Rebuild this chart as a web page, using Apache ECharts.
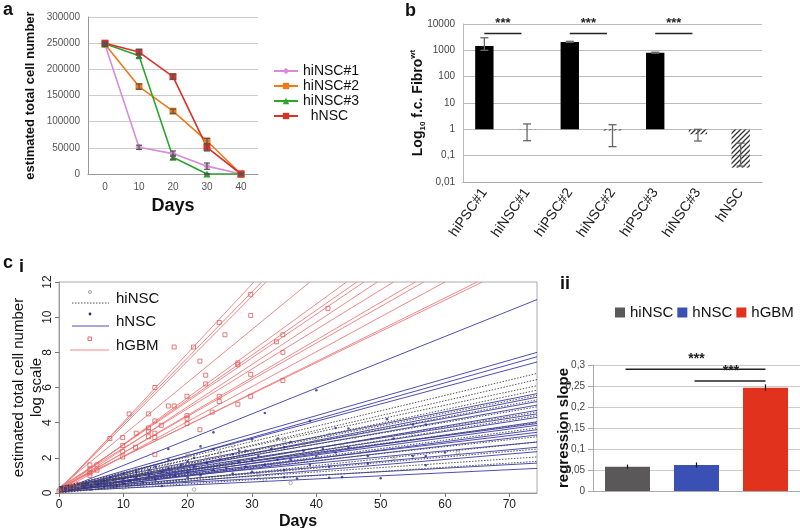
<!DOCTYPE html>
<html>
<head>
<meta charset="utf-8">
<script src="https://cdn.jsdelivr.net/npm/echarts@6.0.0/dist/echarts.min.js"></script>
<style>
html, body { margin: 0; padding: 0; background: #fff; }
#main { width: 800px; height: 528px; }
</style>
</head>
<body>
<div id="main"></div>
<script>
// ---------- panel a : cell number over days ----------
var daysA = ['0', '10', '20', '30', '40'];
var hiNSC1 = [247000, 51000, 39000, 15000, 0];
var hiNSC2 = [248000, 167000, 120000, 63000, 0];
var hiNSC3 = [249000, 226000, 32000, 0, 0];
var hNSCa = [250000, 233000, 186000, 51000, 0];
var errA = {
  'hiNSC#1': [3000, 4000, 5000, 6000, 1000],
  'hiNSC#2': [3000, 5000, 4000, 5000, 1000],
  'hiNSC#3': [2000, 4000, 4000, 1000, 1000],
  'hNSC': [2000, 5000, 5000, 7000, 1000]
};

// ---------- panel b : fold change (log) ----------
var catsB = ['hiPSC#1', 'hiNSC#1', 'hiPSC#2', 'hiNSC#2', 'hiPSC#3', 'hiNSC#3', 'hNSC'];
var foldB = [1460, 0.98, 2080, 0.9, 815, 0.65, 0.035];
var errLowB = [1000, 0.37, 2000, 0.22, 780, 0.36, 0.04];
var errHighB = [3000, 1.6, 2200, 1.5, 850, 1.0, 0.3];
var sigB = [[0, 1, 4400], [2, 3, 4400], [4, 5, 4400]];

// ---------- panel c i : regression lines ----------
var cDayMax = 74.3;
var gbmStart = [0.1, 0.2, 0.15, 0.3, 0.1, 0.2, 0.25, 0.1, 0.3, 0.15, 0.2, 0.1, 0.25, 0.3];
var gbmHitDay = [30.3, 31.5, 32.2, 39, 44.7, 46.3, 47.4, 49.5, 52, 55.4, 56.7, 60, 65, 65.8]; // day where line reaches 12
var hnscStart = [0.1, 0.2, 0.05, 0.15, 0.3, 0.1, 0.25, 0.2, 0.05, 0.3, 0.15, 0.1, 0.35, 0.2, 0.05, 0.25, 0.1, 0.3, 0.15, 0.05, 0.2, 0.1];
var hnscEnd = [11.0, 8.0, 7.75, 7.45, 5.65, 5.45, 5.2, 5.0, 4.7, 4.5, 4.3, 4.05, 3.95, 3.85, 3.6, 3.45, 3.3, 2.9, 2.6, 2.35, 1.7, 1.4];
var hinscStart = [0.3, 0.2, 0.35, 0.1, 0.25, 0.15, 0.3, 0.2, 0.05, 0.35, 0.1, 0.25, 0.0, 0.15, 0.2, 0.05];
var hinscEnd = [6.8, 6.45, 6.1, 5.85, 5.55, 5.3, 4.9, 4.6, 4.4, 4.0, 3.7, 3.2, 2.9, 2.5, 2.05, 1.8];

var gbmPts = [[0,0.1],[1,0.25],[2,0.35],[3,0.5],[4.8,1.6],[4.8,1.35],[4.8,1.15],[4.8,1.0],[5.9,1.6],[5.9,1.3],
  [7.9,3.1],[9.9,3.15],[9.9,2.7],[9.9,2.35],[9.9,2.05],[10.9,4.5],[12,3.4],[11.9,2.6],
  [13.9,4.5],[13.9,3.7],[13.9,3.5],[13.9,3.2],[14.9,6.0],[14.9,4.1],[14.9,3.4],[14.9,3.15],[14.9,2.2],
  [15.9,3.85],[17,4.95],[17.9,8.3],[17.9,4.95],[19.9,5.5],[19.9,4.4],[19.9,4.25],[19.9,3.95],
  [20.9,8.3],[21.9,7.5],[21.9,3.6],[22.8,6.7],[22.8,6.2],[23.8,4.6],[24.9,9.7],[24.9,5.5],[24.9,5.2],
  [25.8,9.0],[27.8,7.4],[27.8,7.3],[27.8,5.05],[29.8,11.3],[29.8,10.1],[29.8,6.75],[29.8,5.5],
  [33.8,8.6],[34.8,9.0],[34.8,8.0],[34.8,6.4],[41.8,10.5]];
var hnscPts = [[1,0.1],[2,0.2],[3,0.25],[4,0.3],[5,0.4],[5,0.2],[6,0.5],[7,0.7],[7,0.35],[8,0.9],[8,0.5],[9,0.4],
  [10,0.8],[10,1.1],[10,0.55],[11,0.7],[12,1.2],[12,0.9],[13,0.6],[14,1.3],[14,1.0],[15,0.75],[15,1.5],[16,0.4],
  [16,1.2],[17,2.5],[17,1.9],[17,1.4],[18,1.0],[19,1.6],[20,1.8],[20,1.2],[20,0.9],[21,1.5],[21,2.0],[22,2.65],
  [22,1.0],[23,1.7],[24,3.45],[24,1.3],[24,2.5],[25,1.9],[26,1.4],[27,2.2],[27,1.1],[28,1.8],[28,2.4],[29,2.4],
  [29,1.5],[30,3.05],[30,1.9],[30,1.2],[31,2.1],[32,4.55],[32,1.6],[33,2.5],[34,3.1],[34,1.9],[35,2.6],[35,0.9],
  [35,1.3],[36,2.9],[36,1.9],[37,0.82],[38,2.4],[39,4.1],[39,1.6],[40,5.84],[40,2.1],[41,2.5],[42,0.87],[42,1.5],
  [43,3.7],[43,2.3],[44,0.91],[45,3.67],[45,2.6],[48,1.67],[48,2.1],[50,0.84],[51,4.2],[52,3.1],[55,3.9],[55,2.1],
  [57,3.9],[57,1.58],[57,2.1],[60,2.3]];
var hinscPts = [[0,0.2],[3,0.3],[5,0.5],[8,0.6],[10,0.3],[10,1.0],[12,1.3],[13,0.9],[15,1.2],[17,1.6],[18,1.4],
  [20,2.2],[20,2.1],[21,0.2],[22,1.7],[23,2.0],[25,2.3],[26,1.6],[27,2.7],[28,2.1],[30,2.4],[31,1.0],[32,0.76],
  [33,2.6],[35,3.0],[36,0.57],[37,2.3],[38,2.8],[40,3.0],[42,3.3],[44,2.7],[46,3.2],[48,3.5],[52,2.0],[55,3.3],[62,2.3]];

// ---------- panel c ii : regression slope ----------
var groupsC = ['hiNSC', 'hNSC', 'hGBM'];
var slopeC = [0.058, 0.062, 0.246];
var slopeErrC = [0.005, 0.006, 0.008];
var sigC = [[0, 2, 0.29], [1, 2, 0.262]];

var font = 'Liberation Sans, Arial, sans-serif';
var chart = echarts.init(document.getElementById('main'));

function hatchPattern() {
  var c = document.createElement('canvas');
  c.width = 5; c.height = 5;
  var g = c.getContext('2d');
  g.strokeStyle = '#333'; g.lineWidth = 1.3;
  g.beginPath();
  g.moveTo(0, 5); g.lineTo(5, 0);
  g.moveTo(-1, 1); g.lineTo(1, -1);
  g.moveTo(4, 6); g.lineTo(6, 4);
  g.stroke();
  return { image: c, repeat: 'repeat' };
}
var hatch = hatchPattern();

function errBarItem(params, api, color, capW) {
  var p1 = api.coord([api.value(0), api.value(1)]);
  var p2 = api.coord([api.value(0), api.value(2)]);
  var st = { stroke: color, lineWidth: 1.2 };
  return { type: 'group', children: [
    { type: 'line', shape: { x1: p1[0], y1: p1[1], x2: p2[0], y2: p2[1] }, style: st },
    { type: 'line', shape: { x1: p1[0] - capW, y1: p1[1], x2: p1[0] + capW, y2: p1[1] }, style: st },
    { type: 'line', shape: { x1: p2[0] - capW, y1: p2[1], x2: p2[0] + capW, y2: p2[1] }, style: st }
  ]};
}

function sigItem(params, api) {
  var a = api.coord([api.value(0), api.value(2)]);
  var b = api.coord([api.value(1), api.value(2)]);
  var bw = api.size([1, 0])[0];
  var x2 = b[0] - bw * 0.13;
  return { type: 'group', children: [
    { type: 'line', shape: { x1: a[0], y1: a[1], x2: x2, y2: a[1] }, style: { stroke: '#222', lineWidth: 1.5 } },
    { type: 'text', style: { text: '***', x: (a[0] + x2) / 2, y: a[1] - 3, align: 'center', verticalAlign: 'bottom',
      fill: '#222', font: 'bold 13px ' + font } }
  ]};
}

var series = [];

// panel a lines
var aSeries = [
  ['hiNSC#1', hiNSC1, '#d98ad9', 'diamond'],
  ['hiNSC#2', hiNSC2, '#ee7a1a', 'rect'],
  ['hiNSC#3', hiNSC3, '#2ca52c', 'triangle'],
  ['hNSC', hNSCa, '#d8322a', 'rect']
];
aSeries.forEach(function (s) {
  series.push({
    name: s[0], type: 'line', xAxisIndex: 0, yAxisIndex: 0, data: s[1],
    symbol: s[3], symbolSize: 7, color: s[2], lineStyle: { width: 1.6 }, z: 3
  });
  var e = errA[s[0]];
  series.push({
    type: 'custom', xAxisIndex: 0, yAxisIndex: 0, z: 4,
    data: s[1].map(function (v, i) { return [i, v - e[i], v + e[i]]; }),
    renderItem: function (p, api) { return errBarItem(p, api, '#555', 3); }
  });
});

// panel b bars
series.push({
  type: 'custom', xAxisIndex: 1, yAxisIndex: 1,
  data: foldB.map(function (v, i) { return [i, v, errLowB[i], errHighB[i]]; }),
  renderItem: function (params, api) {
    var x = api.value(0);
    var base = api.coord([x, 1]);
    var top = api.coord([x, api.value(1)]);
    var w = api.size([1, 0])[0] * 0.43;
    var lo = api.coord([x, api.value(2)]);
    var hi = api.coord([x, api.value(3)]);
    var fill = api.value(1) >= 1 ? '#000' : hatch;
    var y0 = Math.min(base[1], top[1]);
    var st = { stroke: '#666', lineWidth: 1.3 };
    return { type: 'group', children: [
      { type: 'rect', shape: { x: base[0] - w / 2, y: y0, width: w, height: Math.abs(base[1] - top[1]) }, style: { fill: fill } },
      { type: 'line', shape: { x1: lo[0], y1: lo[1], x2: hi[0], y2: hi[1] }, style: st },
      { type: 'line', shape: { x1: lo[0] - 4, y1: lo[1], x2: lo[0] + 4, y2: lo[1] }, style: st },
      { type: 'line', shape: { x1: hi[0] - 4, y1: hi[1], x2: hi[0] + 4, y2: hi[1] }, style: st }
    ]};
  }
});
series.push({ type: 'custom', xAxisIndex: 1, yAxisIndex: 1, data: sigB, encode: { x: [0, 1], y: 2 }, renderItem: sigItem });

// panel c i lines and points
gbmStart.forEach(function (s, i) {
  series.push({ type: 'line', xAxisIndex: 2, yAxisIndex: 2, silent: true, symbol: 'none',
    data: [[0, s], [gbmHitDay[i], 12]], lineStyle: { color: '#f07a7a', width: 0.9 }, z: 2 });
});
hnscStart.forEach(function (s, i) {
  series.push({ type: 'line', xAxisIndex: 2, yAxisIndex: 2, silent: true, symbol: 'none',
    data: [[0, s], [cDayMax, hnscEnd[i]]], lineStyle: { color: '#3a3aa8', width: 0.9 }, z: 2 });
});
hinscStart.forEach(function (s, i) {
  series.push({ type: 'line', xAxisIndex: 2, yAxisIndex: 2, silent: true, symbol: 'none',
    data: [[0, s], [cDayMax, hinscEnd[i]]], lineStyle: { color: '#444', width: 0.9, type: [1.5, 1.5] }, z: 3 });
});
series.push({ type: 'scatter', xAxisIndex: 2, yAxisIndex: 2, data: gbmPts, symbol: 'rect', symbolSize: 4, z: 4,
  itemStyle: { color: 'rgba(255,255,255,0)', borderColor: '#e05a5a', borderWidth: 1 } });
series.push({ type: 'scatter', xAxisIndex: 2, yAxisIndex: 2, data: hinscPts, symbol: 'circle', symbolSize: 3.5, z: 4,
  itemStyle: { color: 'rgba(255,255,255,0)', borderColor: '#888', borderWidth: 0.8 } });
series.push({ type: 'scatter', xAxisIndex: 2, yAxisIndex: 2, data: hnscPts, symbol: 'circle', symbolSize: 2.6, z: 4,
  itemStyle: { color: '#2a2a96' } });

// panel c ii bars
var cColors = ['#5a5858', '#3a50b4', '#e0321c'];
groupsC.forEach(function (g, i) {
  series.push({
    name: g + ' (ii)', type: 'bar', xAxisIndex: 3, yAxisIndex: 3, barWidth: 45, barGap: '-100%',
    color: cColors[i],
    data: slopeC.map(function (v, j) { return j === i ? v : '-'; })
  });
});
series.push({
  type: 'custom', xAxisIndex: 3, yAxisIndex: 3, z: 5,
  data: slopeC.map(function (v, i) { return [i, v - slopeErrC[i], v + slopeErrC[i]]; }),
  renderItem: function (p, api) {
    var a = api.coord([api.value(0), api.value(1)]);
    var b = api.coord([api.value(0), api.value(2)]);
    return { type: 'line', shape: { x1: a[0], y1: a[1], x2: b[0], y2: b[1] }, style: { stroke: '#111', lineWidth: 1.2 } };
  }
});
series.push({ type: 'custom', xAxisIndex: 3, yAxisIndex: 3, data: sigC, encode: { x: [0, 1], y: 2 }, z: 5,
  renderItem: function (params, api) {
    var a = api.coord([api.value(0), api.value(2)]);
    var b = api.coord([api.value(1), api.value(2)]);
    return { type: 'group', children: [
      { type: 'line', shape: { x1: a[0] - 2, y1: a[1], x2: b[0], y2: a[1] }, style: { stroke: '#222', lineWidth: 1.5 } },
      { type: 'text', style: { text: '***', x: (a[0] + b[0]) / 2, y: a[1] - 3, align: 'center', verticalAlign: 'bottom',
        fill: '#222', font: 'bold 14px ' + font } }
    ]};
  }
});

var noComma = function (v) { return String(v).replace('.', ','); };
var grayLab = { color: '#555', fontSize: 10, fontFamily: font, formatter: noComma };

var option = {
  animation: false,
  textStyle: { fontFamily: font },
  grid: [
    { left: 88, top: 17, width: 170, height: 157, outerBoundsMode: 'none' },
    { left: 463, top: 24, width: 299, height: 158, outerBoundsMode: 'none' },
    { left: 59, top: 282, width: 478, height: 211, outerBoundsMode: 'none', show: true, borderColor: '#aaa', borderWidth: 1 },
    { left: 593, top: 365, width: 207, height: 126, outerBoundsMode: 'none' }
  ],
  xAxis: [
    { gridIndex: 0, type: 'category', data: daysA, boundaryGap: true,
      axisLine: { lineStyle: { color: '#999' } }, axisTick: { lineStyle: { color: '#999' } },
      axisLabel: { color: '#555', fontSize: 10 },
      name: 'Days', nameLocation: 'middle', nameGap: 23, nameMoveOverlap: false,
      nameTextStyle: { fontSize: 18, color: '#111', fontWeight: 'bold' } },
    { gridIndex: 1, type: 'category', data: catsB, boundaryGap: true,
      axisLine: { lineStyle: { color: '#aaa' } }, axisTick: { show: false },
      axisLabel: { interval: 0, rotate: 55, fontSize: 14, color: '#222', margin: 8 } },
    { gridIndex: 2, type: 'value', min: 0, max: cDayMax, interval: 10,
      splitLine: { show: false }, axisLine: { lineStyle: { color: '#999' } },
      axisTick: { lineStyle: { color: '#777' }, length: 4 },
      axisLabel: { fontSize: 12, color: '#222', margin: 6, showMaxLabel: false },
      name: 'Days', nameLocation: 'middle', nameGap: 21, nameMoveOverlap: false,
      nameTextStyle: { fontSize: 16, color: '#111', fontWeight: 'bold' } },
    { gridIndex: 3, type: 'category', data: groupsC, boundaryGap: true,
      axisLine: { lineStyle: { color: '#aaa' } }, axisTick: { lineStyle: { color: '#aaa' } }, axisLabel: { show: false } }
  ],
  yAxis: [
    { gridIndex: 0, type: 'value', min: 0, max: 300000, interval: 50000,
      splitLine: { lineStyle: { color: '#ccc' } }, axisLine: { show: true, lineStyle: { color: '#999' } },
      axisLabel: grayLab,
      name: 'estimated total cell number', nameLocation: 'middle', nameGap: 51, nameMoveOverlap: false,
      nameTextStyle: { fontSize: 13, color: '#111', fontWeight: 'bold' } },
    { gridIndex: 1, type: 'log', logBase: 10, min: 0.01, max: 10000,
      splitLine: { lineStyle: { color: '#bbb' } }, axisLine: { show: true, lineStyle: { color: '#bbb' } },
      axisTick: { show: false },
      axisLabel: { color: '#444', fontSize: 10, formatter: noComma },
      name: '{m|Log}{s|10}{m| f.c. Fibro}{p|wt}', nameLocation: 'middle', nameGap: 36, nameMoveOverlap: false,
      nameTextStyle: { rich: {
        m: { fontSize: 14, fontWeight: 'bold', color: '#111', lineHeight: 18 },
        s: { fontSize: 8, fontWeight: 'bold', color: '#111', lineHeight: 18, verticalAlign: 'bottom' },
        p: { fontSize: 8, fontWeight: 'bold', color: '#111', lineHeight: 18, verticalAlign: 'top' }
      } } },
    { gridIndex: 2, type: 'value', min: 0, max: 12, interval: 2,
      splitLine: { show: false }, axisLine: { show: true, lineStyle: { color: '#999' } },
      axisTick: { show: true, lineStyle: { color: '#777' }, length: 4 },
      axisLabel: { rotate: 90, fontSize: 12, color: '#222', margin: 5 },
      name: 'estimated total cell number\nlog scale', nameLocation: 'middle', nameGap: 13, nameMoveOverlap: false,
      nameTextStyle: { fontSize: 15, color: '#111', lineHeight: 18 } },
    { gridIndex: 3, type: 'value', min: 0, max: 0.3, interval: 0.05,
      splitLine: { lineStyle: { color: '#ccc' } }, axisLine: { show: true, lineStyle: { color: '#aaa' } },
      axisTick: { show: true, lineStyle: { color: '#aaa' } },
      axisLabel: { color: '#444', fontSize: 10, formatter: noComma },
      name: 'regression slope', nameLocation: 'middle', nameGap: 22, nameMoveOverlap: false,
      nameTextStyle: { fontSize: 15, color: '#111', fontWeight: 'bold' } }
  ],
  legend: [
    { data: ['hiNSC#1', 'hiNSC#2', 'hiNSC#3', 'hNSC'], orient: 'vertical', left: 268, top: 59,
      itemWidth: 24, itemHeight: 8, itemGap: 1, selectedMode: false,
      textStyle: { fontSize: 14, color: '#111', lineHeight: 14 },
      formatter: function (n) { return n === 'hNSC' ? '  hNSC' : n; } },
    { data: ['hiNSC (ii)', 'hNSC (ii)', 'hGBM (ii)'], orient: 'horizontal', left: 615, top: 305, padding: 0,
      itemWidth: 10, itemHeight: 10, itemGap: 4, icon: 'rect', selectedMode: false,
      textStyle: { fontSize: 15, color: '#111' },
      formatter: function (n) { return n.replace(' (ii)', ''); } }
  ],
  graphic: [
    { type: 'text', left: 3, top: 1, style: { text: 'a', font: 'bold 18px ' + font, fill: '#111' } },
    { type: 'text', left: 405, top: 2, style: { text: 'b', font: 'bold 18px ' + font, fill: '#111' } },
    { type: 'text', left: 3, top: 254, style: { text: 'c', font: 'bold 18px ' + font, fill: '#111' } },
    { type: 'text', left: 19, top: 258, style: { text: 'i', font: 'bold 18px ' + font, fill: '#111' } },
    { type: 'text', left: 560, top: 275, style: { text: 'ii', font: 'bold 18px ' + font, fill: '#111' } },
    // panel c i legend
    { type: 'circle', shape: { cx: 90, cy: 292, r: 1.5 }, style: { fill: 'none', stroke: '#888', lineWidth: 0.8 } },
    { type: 'line', shape: { x1: 72, y1: 303, x2: 109, y2: 303 }, style: { stroke: '#444', lineWidth: 0.9, lineDash: [1.5, 1.5] } },
    { type: 'text', left: 116, top: 291, style: { text: 'hiNSC', font: '15px ' + font, fill: '#111' } },
    { type: 'circle', shape: { cx: 90, cy: 314, r: 1.4 }, style: { fill: '#2a2a96' } },
    { type: 'line', shape: { x1: 72, y1: 326, x2: 109, y2: 326 }, style: { stroke: '#3a3aa8', lineWidth: 0.9 } },
    { type: 'text', left: 116, top: 314, style: { text: 'hNSC', font: '15px ' + font, fill: '#111' } },
    { type: 'rect', shape: { x: 88, y: 337, width: 3.5, height: 3.5 }, style: { fill: 'none', stroke: '#e05a5a', lineWidth: 0.9 } },
    { type: 'line', shape: { x1: 70, y1: 350, x2: 109, y2: 350 }, style: { stroke: '#f07a7a', lineWidth: 0.9 } },
    { type: 'text', left: 116, top: 338, style: { text: 'hGBM', font: '15px ' + font, fill: '#111' } }
  ],
  series: series
};
chart.setOption(option);
</script>
</body>
</html>
